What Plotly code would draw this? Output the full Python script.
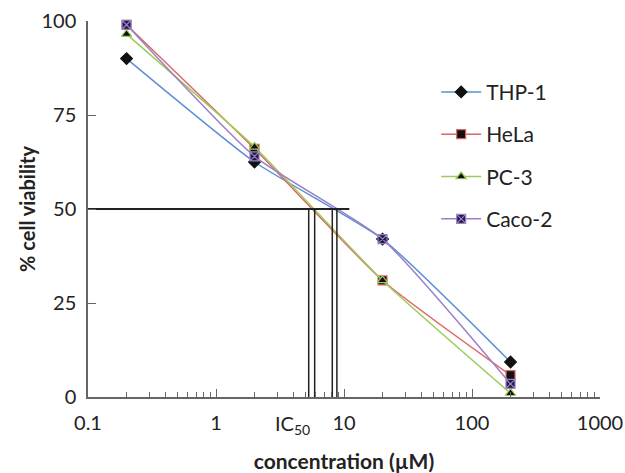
import plotly.graph_objects as go

conc = [0.2, 2, 20, 200]
thp1 = [90, 62.5, 42, 9.3]
hela = [99, 66, 31, 5.8]
pc3 = [96.5, 66.5, 31, 1]
caco2 = [99, 64, 42, 3.5]

ic50_x = [5.3, 5.9, 8.1, 8.8]
ic50_level = 50

series = [
    ("THP-1", thp1, "#5b8fd6", "diamond", 9, "#111111", "#111111"),
    ("HeLa", hela, "#e06666", "square", 9, "#111111", "#e06666"),
    ("PC-3", pc3, "#9ccc5a", "triangle-up", 9, "#111111", "#9ccc5a"),
    ("Caco-2", caco2, "#9b80c8", "square-x", 9, "#1e1a40", "#9b80c8"),
]

FONT = "Lato, 'Open Sans', sans-serif"

fig = go.Figure()
for name, vals, lc, sym, ms, fc, mlc in series:
    fig.add_trace(go.Scatter(
        x=conc, y=vals, name=name, mode="lines+markers", legendgroup=name,
        line=dict(color=lc, width=1.5, shape="spline", smoothing=0.5),
        marker=dict(symbol=sym, size=ms, color=fc, line=dict(color=mlc, width=1.2)),
        cliponaxis=False,
    ))

# IC50 lines
fig.add_trace(go.Scatter(x=[0.1, 11], y=[ic50_level, ic50_level], mode="lines",
                         line=dict(color="#222222", width=2), showlegend=False, hoverinfo="skip"))
for xv in ic50_x:
    fig.add_trace(go.Scatter(x=[xv, xv], y=[ic50_level, 0], mode="lines",
                             line=dict(color="#222222", width=1.5), showlegend=False, hoverinfo="skip"))

fig.add_annotation(x=0.6, y=0, xref="x", yref="y", yshift=-27, text="IC<sub>50</sub>",
                   showarrow=False, font=dict(family=FONT, size=20, color="#222"))

fig.update_layout(
    width=625, height=473,
    margin=dict(l=88, r=25, t=21, b=76),
    paper_bgcolor="white", plot_bgcolor="white",
    font=dict(family=FONT, size=20, color="#222"),
    legend=dict(x=0.68, y=0.865, xanchor="left", yanchor="top",
                font=dict(size=21, color="#222"), tracegroupgap=12, itemwidth=40,
                bgcolor="rgba(0,0,0,0)"),
    xaxis=dict(type="log", range=[-1, 3], showgrid=False, showline=True, automargin=False,
               linecolor="#666", linewidth=1.5, ticks="inside", ticklen=8, tickcolor="#666",
               tickvals=[0.1, 1, 10, 100, 1000], ticktext=["0.1", "1", "10", "100", "1000"],
               ticklabelstandoff=7,
               minor=dict(ticks="inside", ticklen=5, tickcolor="#666", showgrid=False,
                          tickvals=[m * d for d in [0.1, 1, 10, 100] for m in range(2, 10)]),
               title=dict(text="<b>concentration (µM)</b>", font=dict(size=21), standoff=29),
               zeroline=False),
    yaxis=dict(range=[0, 100], showgrid=False, showline=True, linecolor="#666", linewidth=1.5,
               automargin=False,
               ticks="inside", ticklen=8, tickcolor="#666", tickvals=[0, 25, 50, 75, 100],
               ticklabelstandoff=6,
               title=dict(text="<b>% cell viability</b>", font=dict(size=20), standoff=0),
               zeroline=False),
)

fig.write_html("out.html", config={"displayModeBar": False},
               post_script="document.body.style.margin='0';document.body.style.overflow='hidden';")
